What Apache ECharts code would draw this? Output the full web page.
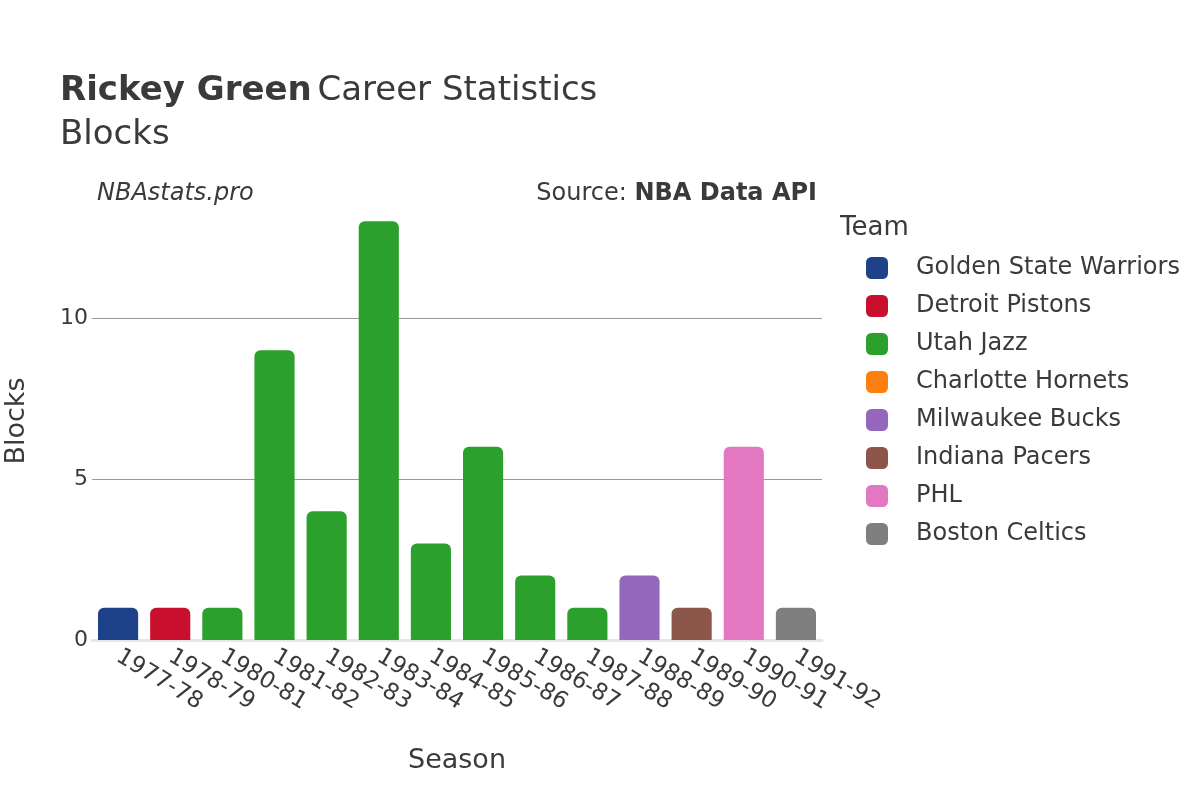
<!DOCTYPE html>
<html>
<head>
<meta charset="utf-8">
<script src="https://cdn.jsdelivr.net/npm/echarts@6/dist/echarts.min.js"></script>
<style>html,body{margin:0;padding:0;background:#fff;}#c{width:1200px;height:800px;}</style>
</head>
<body>
<div id="c"></div>
<script>
const seasons = ["1977-78","1978-79","1980-81","1981-82","1982-83","1983-84","1984-85","1985-86","1986-87","1987-88","1988-89","1989-90","1990-91","1991-92"];
const teams = ["Golden State Warriors","Detroit Pistons","Utah Jazz","Charlotte Hornets","Milwaukee Bucks","Indiana Pacers","PHL","Boston Celtics"];
const teamColors = ["#1d428a","#c8102e","#2ca02c","#ff7f0e","#9467bd","#8c564b","#e377c2","#7f7f7f"];
// team for each season and blocks in that season
const seasonTeam = ["Golden State Warriors","Detroit Pistons","Utah Jazz","Utah Jazz","Utah Jazz","Utah Jazz","Utah Jazz","Utah Jazz","Utah Jazz","Utah Jazz","Milwaukee Bucks","Indiana Pacers","PHL","Boston Celtics"];
const blocks = [1,1,1,9,4,13,3,6,2,1,2,1,6,1];
const yTicks = [0,5,10];

const FONT = "DejaVu Sans";
const TXT = '#3a3a3a';
const series = teams.map((t,i)=>({
  name: t,
  type: 'bar',
  stack: 'total',
  barCategoryGap: '23%',
  itemStyle: {color: teamColors[i], borderRadius:[6,6,0,0]},
  data: seasons.map((s,j)=> seasonTeam[j]===t ? blocks[j] : '-')
}));

const chart = echarts.init(document.getElementById('c'));
chart.setOption({
  animation:false,
  textStyle:{fontFamily:FONT},
  title:[
    {left:60, top:69, padding:0, text:'{b|Rickey Green} {n|Career Statistics}\n{n|Blocks}',
     textStyle:{fontWeight:'normal',
       rich:{b:{fontFamily:FONT,fontSize:34,fontWeight:'bold',color:TXT,lineHeight:44},
             n:{fontFamily:FONT,fontSize:34,fontWeight:'normal',color:TXT,lineHeight:44}}}},
    {left:97, top:182, padding:0, text:'NBAstats.pro', textStyle:{fontFamily:FONT,fontSize:24,fontStyle:'italic',fontWeight:'normal',color:TXT}},
    {right:383, top:182, padding:0, text:'{n|Source: }{b|NBA Data API}',
     textStyle:{fontWeight:'normal',
       rich:{n:{fontFamily:FONT,fontSize:24,fontWeight:'normal',color:TXT},b:{fontFamily:FONT,fontSize:24,fontWeight:'bold',color:TXT}}}},
    {left:840, top:215, padding:0, text:'Team', textStyle:{fontFamily:FONT,fontSize:26,fontWeight:'normal',color:TXT}}
  ],
  legend:{
    orient:'vertical', left:866, top:256, padding:0, itemWidth:22, itemHeight:22, itemGap:14,
    icon:'roundRect', data:teams,
    textStyle:{fontFamily:FONT,fontSize:24,color:TXT,padding:[0,0,0,23]}
  },
  grid:{left:92, right:378, top:202, bottom:160, outerBoundsMode:'none'},
  xAxis:{
    type:'category', data:seasons,
    name:'Season', nameLocation:'middle', nameGap:107,
    nameTextStyle:{fontFamily:FONT,fontSize:27,color:TXT},
    axisLine:{show:true,lineStyle:{color:'#e6e6e6',width:3}},
    axisTick:{show:false},
    axisLabel:{rotate:-31, interval:0, fontSize:23, color:TXT, margin:15, fontFamily:FONT}
  },
  yAxis:{
    type:'value', min:0, max:13.6, interval:5,
    name:'Blocks', nameLocation:'middle', nameGap:62,
    nameTextStyle:{fontFamily:FONT,fontSize:27,color:TXT},
    axisLine:{show:false}, axisTick:{show:false},
    axisLabel:{fontSize:22,color:TXT,margin:4,showMaxLabel:false,fontFamily:FONT,
      formatter:(v)=> yTicks.includes(v) ? String(v) : ''},
    splitLine:{show:true, showMinLine:false, showMaxLine:false, lineStyle:{color:'#999999',width:1}}
  },
  series: series
});
</script>
</body>
</html>
